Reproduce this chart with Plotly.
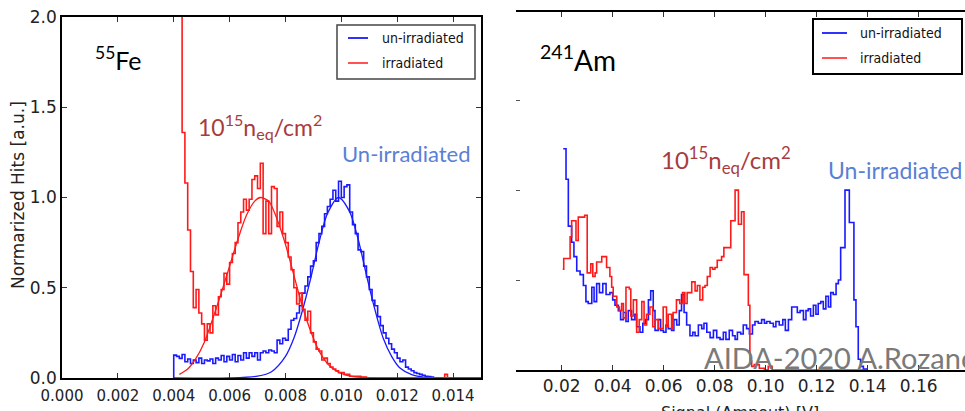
import plotly.graph_objects as go

# ---------------- Left panel: 55Fe ----------------
fe_bin_width = 0.0001
fe_red_start = 0.0042
fe_red_hist = [2.6, 1.36, 1.08, 0.82, 0.59, 0.39, 0.49, 0.36, 0.30, 0.21,
               0.30, 0.25, 0.40, 0.35, 0.45, 0.49, 0.58, 0.52, 0.64, 0.69,
               0.75, 0.86, 0.92, 0.99, 0.93, 0.99, 1.10, 1.12, 1.05, 1.19,
               0.80, 0.98, 0.80, 1.06, 1.05, 0.84, 0.92, 0.80, 0.75, 0.67,
               0.60, 0.50, 0.41, 0.47, 0.38, 0.32, 0.37, 0.25, 0.20, 0.16,
               0.15, 0.10, 0.11, 0.08, 0.06, 0.05, 0.04, 0.03, 0.03, 0.02,
               0.02, 0.01, 0.01, 0.01, 0.01, 0.005, 0.005, 0.0, 0.0, 0.0,
               0.0, 0.0, 0.0, 0.0, 0.0, 0.0, 0.0, 0.0, 0.0, 0.0,
               0.0, 0.0, 0.0, 0.0, 0.0, 0.0, 0.0, 0.0, 0.0, 0.0,
               0.0, 0.0, 0.0, 0.0, 0.0, 0.02, 0.0, 0.0, 0.0, 0.0,
               0.0, 0.0, 0.0, 0.0, 0.0, 0.0, 0.0, 0.0]
fe_blue_start = 0.0040
fe_blue_hist = [0.127, 0.12, 0.109, 0.13, 0.09, 0.105, 0.08, 0.10, 0.085, 0.11,
                0.08, 0.10, 0.095, 0.105, 0.08, 0.11, 0.10, 0.125, 0.09, 0.12,
                0.10, 0.13, 0.09, 0.125, 0.10, 0.14, 0.11, 0.14, 0.12, 0.14,
                0.10, 0.14, 0.15, 0.14, 0.155, 0.15, 0.14, 0.21, 0.19, 0.22,
                0.21, 0.27, 0.32, 0.33, 0.36, 0.40, 0.47, 0.51, 0.56, 0.62,
                0.65, 0.75, 0.80, 0.84, 0.91, 0.95, 0.99, 1.04, 0.98, 1.09,
                1.00, 1.06, 1.07, 0.92, 0.85, 0.80, 0.71, 0.70, 0.62, 0.56,
                0.49, 0.43, 0.40, 0.34, 0.29, 0.25, 0.22, 0.19, 0.16, 0.14,
                0.11, 0.09, 0.10, 0.06, 0.05, 0.04, 0.03, 0.025, 0.02, 0.015,
                0.01, 0.008, 0.005, 0.0, 0.0, 0.0, 0.0, 0.0, 0.0, 0.0,
                0.0, 0.0, 0.0, 0.0, 0.0, 0.0, 0.0, 0.0, 0.0, 0.0]
fe_red_fit_x = [0.0042, 0.0045, 0.0048, 0.0051, 0.0054, 0.0057, 0.0060, 0.0063,
                0.0066, 0.0069, 0.0071, 0.0074, 0.0077, 0.0080, 0.0083, 0.0086,
                0.0089, 0.0092, 0.0095, 0.0098, 0.0102, 0.0108, 0.0120, 0.0150]
fe_red_fit_y = [0.02, 0.05, 0.11, 0.20, 0.33, 0.47, 0.62, 0.77,
                0.90, 0.98, 1.00, 0.98, 0.88, 0.74, 0.57, 0.40,
                0.26, 0.15, 0.08, 0.04, 0.015, 0.003, 0.0, 0.0]
fe_blue_fit_x = [0.0040, 0.0060, 0.0070, 0.0075, 0.0080, 0.0083, 0.0086, 0.0089,
                 0.0092, 0.0095, 0.0099, 0.0103, 0.0106, 0.0109, 0.0112, 0.0115,
                 0.0118, 0.0121, 0.0125, 0.0130, 0.0150]
fe_blue_fit_y = [0.0, 0.0, 0.01, 0.035, 0.12, 0.22, 0.37, 0.55,
                 0.75, 0.91, 1.00, 0.92, 0.77, 0.57, 0.38, 0.22,
                 0.12, 0.055, 0.02, 0.004, 0.0]

# ---------------- Right panel: 241Am ----------------
am_blue_x = [0.0206, 0.0217, 0.0226, 0.0239, 0.0248, 0.0259, 0.0272, 0.0285, 0.0295, 0.0304,
             0.0318, 0.0327, 0.0337, 0.0348, 0.0361, 0.0374, 0.0389, 0.0400, 0.0409, 0.0422,
             0.0431, 0.0442, 0.0452, 0.0461, 0.0474, 0.0487, 0.0494, 0.0507, 0.0518, 0.0529,
             0.0540, 0.0549, 0.0559, 0.0566, 0.0579, 0.0588, 0.0599, 0.0609, 0.0618, 0.0631,
             0.0640, 0.0651, 0.0661, 0.0670, 0.0680, 0.0690, 0.0703, 0.0714, 0.0723, 0.0736,
             0.0749, 0.0758, 0.0769, 0.0782, 0.0795, 0.0808, 0.0821, 0.0834, 0.0844, 0.0857,
             0.0870, 0.0880, 0.0889, 0.0902, 0.0912, 0.0925, 0.0936, 0.0948, 0.0958, 0.0971,
             0.0984, 0.0995, 0.1004, 0.1017, 0.1030, 0.1040, 0.1053, 0.1067, 0.1077, 0.1089,
             0.1102, 0.1112, 0.1124, 0.1135, 0.1148, 0.1158, 0.1167, 0.1176, 0.1187, 0.1197,
             0.1206, 0.1216, 0.1226, 0.1236, 0.1246, 0.1255, 0.1265, 0.1276, 0.1285, 0.1294,
             0.1304, 0.1311, 0.1328, 0.1346, 0.1354, 0.1363, 0.1372, 0.1383, 0.1396]
am_blue_y = [1.23, 1.06, 0.80, 0.71, 0.63, 0.55, 0.53, 0.47, 0.38, 0.37,
             0.46, 0.38, 0.48, 0.43, 0.48, 0.42, 0.43, 0.39, 0.36, 0.33,
             0.28, 0.32, 0.27, 0.33, 0.28, 0.31, 0.24, 0.21, 0.26, 0.28,
             0.39, 0.44, 0.33, 0.22, 0.28, 0.22, 0.21, 0.25, 0.23, 0.22,
             0.28, 0.25, 0.33, 0.42, 0.32, 0.25, 0.19, 0.21, 0.19, 0.25,
             0.23, 0.26, 0.21, 0.18, 0.22, 0.18, 0.17, 0.21, 0.17, 0.22,
             0.19, 0.17, 0.21, 0.20, 0.25, 0.23, 0.20, 0.25, 0.27, 0.26,
             0.28, 0.26, 0.27, 0.26, 0.24, 0.27, 0.25, 0.28, 0.22, 0.28,
             0.35, 0.35, 0.32, 0.33, 0.28, 0.33, 0.34, 0.30, 0.36, 0.31,
             0.37, 0.38, 0.34, 0.41, 0.35, 0.43, 0.42, 0.48, 0.50, 0.68,
             0.68, 1.00, 0.82, 0.39, 0.24, 0.06, 0.02, 0.005, 0.0]
am_red_x = [0.0204, 0.0208, 0.0233, 0.0239, 0.0256, 0.0265, 0.0278, 0.0290, 0.0300, 0.0314,
            0.0322, 0.0331, 0.0337, 0.0347, 0.0357, 0.0370, 0.0376, 0.0389, 0.0396, 0.0402,
            0.0416, 0.0426, 0.0435, 0.0442, 0.0452, 0.0465, 0.0471, 0.0481, 0.0494, 0.0504,
            0.0514, 0.0523, 0.0533, 0.0546, 0.0557, 0.0566, 0.0579, 0.0585, 0.0598, 0.0611,
            0.0618, 0.0631, 0.0637, 0.0650, 0.0663, 0.0674, 0.0683, 0.0692, 0.0703, 0.0710,
            0.0723, 0.0732, 0.0742, 0.0753, 0.0762, 0.0771, 0.0782, 0.0792, 0.0801, 0.0810,
            0.0821, 0.0827, 0.0836, 0.0848, 0.0863, 0.0880, 0.0893, 0.0905, 0.0915, 0.0932,
            0.0938, 0.0945, 0.0955, 0.0975, 0.0995, 0.1010, 0.1025, 0.1400]
am_red_y = [0.56, 0.62, 0.74, 0.83, 0.72, 0.85, 0.85, 0.86, 0.54, 0.59,
            0.52, 0.54, 0.60, 0.60, 0.63, 0.63, 0.57, 0.52, 0.46, 0.41,
            0.35, 0.33, 0.37, 0.29, 0.46, 0.45, 0.30, 0.39, 0.21, 0.28,
            0.38, 0.25, 0.31, 0.35, 0.24, 0.28, 0.23, 0.23, 0.35, 0.24,
            0.31, 0.23, 0.32, 0.39, 0.37, 0.43, 0.37, 0.43, 0.43, 0.49,
            0.44, 0.47, 0.39, 0.46, 0.47, 0.52, 0.57, 0.56, 0.57, 0.61,
            0.61, 0.63, 0.68, 0.68, 0.83, 1.00, 0.81, 0.88, 0.53, 0.36,
            0.05, 0.02, 0.03, 0.01, 0.0, 0.02, 0.0, 0.0]

W, H = 965, 411
RED = "#ff1a1a"
BLUE = "#1a1aff"


def step_xy(start, width, vals):
    xs = [start + i * width for i in range(len(vals) + 1)]
    ys = list(vals) + [vals[-1]]
    return xs, ys


def px(x):
    return x / W


def py(y):
    return 1 - y / H


fig = go.Figure()

# left panel traces
bx, by = step_xy(fe_blue_start, fe_bin_width, fe_blue_hist)
bx = [fe_blue_start] + bx
by = [0.0] + by
fig.add_trace(go.Scatter(x=bx, y=by, mode="lines", line=dict(color=BLUE, width=1.6, shape="hv"),
                         xaxis="x", yaxis="y", showlegend=False))
fig.add_trace(go.Scatter(x=fe_blue_fit_x, y=fe_blue_fit_y, mode="lines",
                         line=dict(color=BLUE, width=1.3, shape="spline", smoothing=0.8),
                         xaxis="x", yaxis="y", showlegend=False))
rx, ry = step_xy(fe_red_start, fe_bin_width, fe_red_hist)
fig.add_trace(go.Scatter(x=rx, y=ry, mode="lines", line=dict(color=RED, width=1.6, shape="hv"),
                         xaxis="x", yaxis="y", showlegend=False))
fig.add_trace(go.Scatter(x=fe_red_fit_x, y=fe_red_fit_y, mode="lines",
                         line=dict(color=RED, width=1.3, shape="spline", smoothing=0.8),
                         xaxis="x", yaxis="y", showlegend=False))

# right panel traces
fig.add_trace(go.Scatter(x=am_blue_x, y=am_blue_y, mode="lines",
                         line=dict(color=BLUE, width=1.6, shape="hv"),
                         xaxis="x2", yaxis="y2", showlegend=False))
fig.add_trace(go.Scatter(x=am_red_x, y=am_red_y, mode="lines",
                         line=dict(color=RED, width=1.6, shape="hv"),
                         xaxis="x2", yaxis="y2", showlegend=False))

tickfont = dict(family="DejaVu Sans", size=15, color="#222")

fig.update_layout(
    width=W, height=H,
    margin=dict(l=0, r=0, t=0, b=0, autoexpand=False),
    paper_bgcolor="white", plot_bgcolor="white",
    xaxis=dict(domain=[px(62), px(481)], range=[0, 0.015], dtick=0.002, tick0=0,
               tickformat=".3f", showgrid=False, zeroline=False, showline=True,
               linecolor="black", linewidth=1.5, mirror="ticks", ticks="inside",
               ticklen=5, tickcolor="#333", tickfont=tickfont, anchor="y",
               automargin=False, ticklabelstandoff=3),
    yaxis=dict(domain=[py(378), py(17)], range=[0, 2.0], dtick=0.5, tick0=0,
               tickformat=".1f", showgrid=False, zeroline=False, showline=True,
               linecolor="black", linewidth=1.5, mirror="ticks", ticks="inside",
               ticklen=5, tickcolor="#333", automargin=False,
               tickfont=dict(family="DejaVu Sans", size=17, color="#222"), anchor="x"),
    xaxis2=dict(domain=[px(516), 1.0], range=[0.00208, 0.17816], dtick=0.02, tick0=0,
                tickformat=".2f", showgrid=False, zeroline=False, showline=True,
                linecolor="black", linewidth=1.8, mirror="ticks", ticks="inside",
                ticklen=5, tickcolor="#333", automargin=False,
                tickfont=dict(family="DejaVu Sans", size=17, color="#222"), anchor="y2"),
    yaxis2=dict(domain=[py(370), py(12)], range=[0, 1.99], dtick=0.5, tick0=0,
                showticklabels=False, showgrid=False, zeroline=False, showline=False,
                ticks="inside", ticklen=4, tickcolor="#555", anchor="x2", automargin=False),
)

ann = []
# y-axis title (left)
ann.append(dict(x=px(18), y=py(195), xref="paper", yref="paper", text="Normarized Hits [a.u.]",
                textangle=-90, showarrow=False, xanchor="center", yanchor="middle",
                font=dict(family="DejaVu Sans", size=17, color="#222")))
# right x-axis title (cut at bottom)
ann.append(dict(x=px(740), y=py(401), xref="paper", yref="paper", text="Signal (Ampout) [V]",
                showarrow=False, xanchor="center", yanchor="top",
                font=dict(family="DejaVu Sans", size=16, color="#222")))
# isotope labels
ann.append(dict(x=px(93), y=py(58), xref="paper", yref="paper", text="<sup>55</sup>Fe",
                showarrow=False, xanchor="left", yanchor="middle",
                font=dict(family="Lato", size=25, color="black")))
ann.append(dict(x=px(538), y=py(58), xref="paper", yref="paper", text="<sup>241</sup>Am",
                showarrow=False, xanchor="left", yanchor="middle",
                font=dict(family="Lato", size=28, color="black")))
# fluence labels
ann.append(dict(x=px(196), y=py(126), xref="paper", yref="paper",
                text="10<sup>15</sup>n<sub>eq</sub>/cm<sup>2</sup>",
                showarrow=False, xanchor="left", yanchor="middle",
                font=dict(family="Lato", size=23, color="#a83c3c")))
ann.append(dict(x=px(659), y=py(160), xref="paper", yref="paper",
                text="10<sup>15</sup>n<sub>eq</sub>/cm<sup>2</sup>",
                showarrow=False, xanchor="left", yanchor="middle",
                font=dict(family="Lato", size=24, color="#a83c3c")))
# un-irradiated labels
ann.append(dict(x=px(340), y=py(153), xref="paper", yref="paper", text="Un-irradiated",
                showarrow=False, xanchor="left", yanchor="middle",
                font=dict(family="Lato", size=22, color="#5a7fd6")))
ann.append(dict(x=px(826), y=py(170), xref="paper", yref="paper", text="Un-irradiated",
                showarrow=False, xanchor="left", yanchor="middle",
                font=dict(family="Lato", size=23, color="#5a7fd6")))
# watermark
ann.append(dict(x=px(702), y=py(357), xref="paper", yref="paper", text="AIDA-2020 A.Rozanov",
                showarrow=False, xanchor="left", yanchor="middle",
                font=dict(family="Lato", size=29, color="#7a7a7a")))

# legends
legfont = dict(family="Liberation Sans Narrow, DejaVu Sans Condensed, sans-serif", size=14, color="#111")
shapes = []
for (bx0, by0, bx1, by1, lx0, lx1, tx, ly1, ly2, lw, bcol) in [
        (337, 25, 475, 79, 348, 368, 380, 38, 63, 1.5, "#444"),
        (813, 19, 962, 74, 822, 847, 858, 33, 58, 2.0, "black")]:
    shapes.append(dict(type="rect", xref="paper", yref="paper", x0=px(bx0), x1=px(bx1),
                       y0=py(by1), y1=py(by0), line=dict(color=bcol, width=lw),
                       fillcolor="white", layer="above"))
    shapes.append(dict(type="line", xref="paper", yref="paper", x0=px(lx0), x1=px(lx1),
                       y0=py(ly1), y1=py(ly1), line=dict(color=BLUE, width=1.8), layer="above"))
    shapes.append(dict(type="line", xref="paper", yref="paper", x0=px(lx0), x1=px(lx1),
                       y0=py(ly2), y1=py(ly2), line=dict(color=RED, width=1.5), layer="above"))
    ann.append(dict(x=px(tx), y=py(ly1), xref="paper", yref="paper", text="un-irradiated",
                    showarrow=False, xanchor="left", yanchor="middle", font=legfont))
    ann.append(dict(x=px(tx), y=py(ly2), xref="paper", yref="paper", text="irradiated",
                    showarrow=False, xanchor="left", yanchor="middle", font=legfont))

fig.update_layout(annotations=ann, shapes=shapes)
fig.write_html("out.html", config={"displayModeBar": False},
               post_script="document.body.style.margin='0';document.body.style.overflow='hidden';")
